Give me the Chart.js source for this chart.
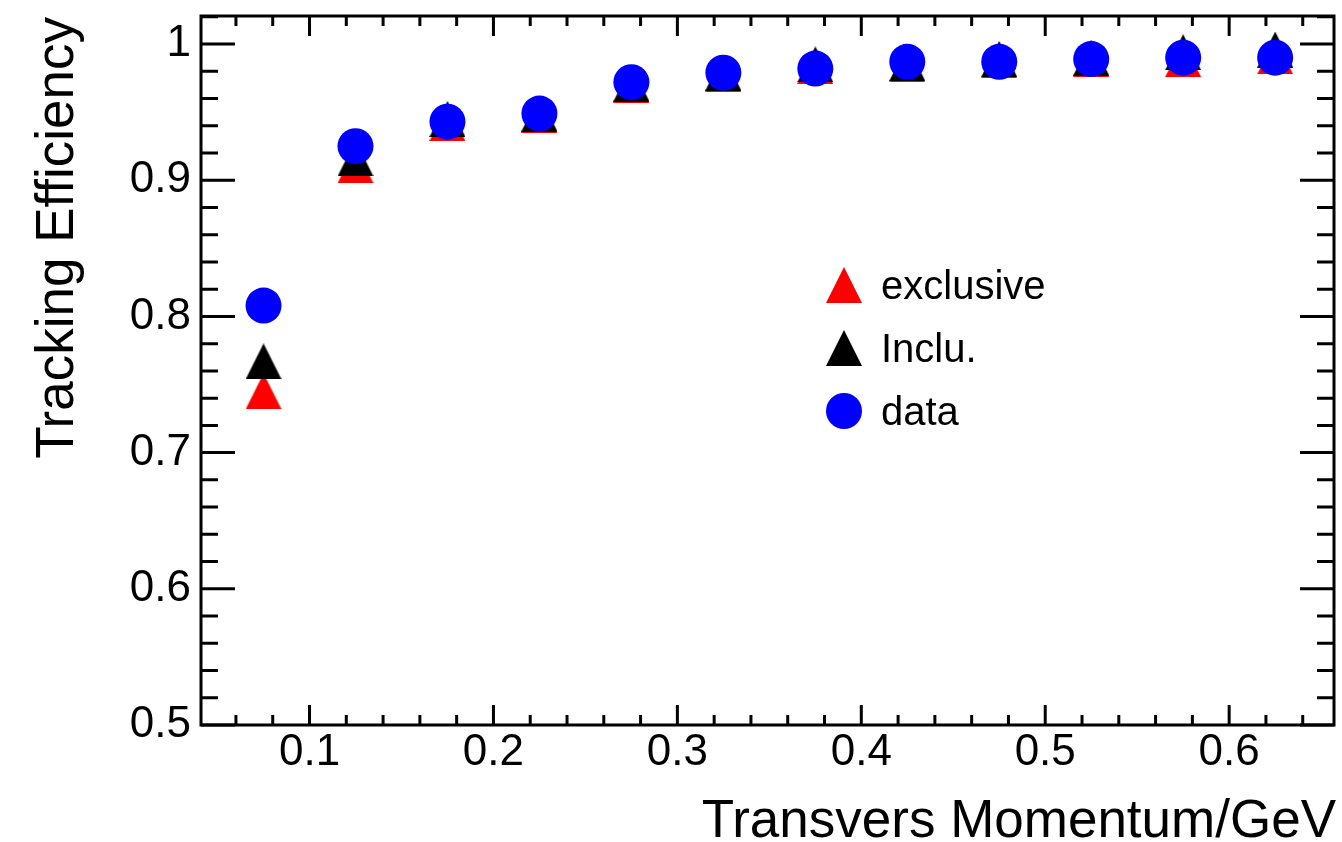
<!DOCTYPE html>
<html>
<head>
<meta charset="utf-8">
<title>Tracking Efficiency</title>
<script src="https://cdn.jsdelivr.net/npm/chart.js@4/dist/chart.umd.min.js"></script>
<style>
  html, body { margin: 0; padding: 0; background: #fff; }
  canvas { display: block; }
</style>
</head>
<body>
<canvas id="eff" width="1342" height="842"></canvas>
<script>
// pT bin centres (GeV)
const ptBins = [0.075, 0.125, 0.175, 0.225, 0.275, 0.325, 0.375, 0.425, 0.475, 0.525, 0.575, 0.625];
const effExclusive = [0.745, 0.911, 0.942, 0.948, 0.970, 0.978, 0.984, 0.985, 0.988, 0.989, 0.989, 0.991];
const effInclu = [0.767, 0.916, 0.945, 0.949, 0.971, 0.979, 0.985, 0.986, 0.989, 0.990, 0.994, 0.996];
const effData = [0.808, 0.925, 0.943, 0.949, 0.972, 0.979, 0.982, 0.987, 0.987, 0.989, 0.990, 0.990];
const seriesNames = ['exclusive', 'Inclu.', 'data'];

const FONT = '"Liberation Sans", Arial, Helvetica, sans-serif';

// root-style full triangle marker (as wide as it is tall)
const triangleMarker = (color, size = 36) => {
  const c = document.createElement('canvas');
  c.width = size;
  c.height = size;
  const g = c.getContext('2d');
  g.fillStyle = color;
  g.beginPath();
  g.moveTo(size / 2, 0);
  g.lineTo(size, size);
  g.lineTo(0, size);
  g.closePath();
  g.fill();
  return c;
};
const redTri = triangleMarker('#ff0000');
const blackTri = triangleMarker('#000000');

const toPoints = (ys) => ptBins.map((x, i) => ({ x, y: ys[i] }));

// pin the frame: no extra room for edge labels
const noPad = (s) => {
  s.paddingTop = 0;
  s.paddingBottom = 0;
  s.paddingLeft = 0;
  s.paddingRight = 0;
};

// frame + inward ticks on all four sides
const frameTicks = {
  id: 'frameTicks',
  afterDatasetsDraw(chart) {
    const { ctx, chartArea: a, scales } = chart;
    const xs = scales.x;
    const ys = scales.y;
    ctx.save();
    ctx.strokeStyle = '#000';
    ctx.lineWidth = 3;
    ctx.beginPath();
    for (let k = 2; k <= 33; k++) {
      const v = k / 50;
      if (v < xs.min || v > xs.max) continue;
      const px = xs.getPixelForValue(v);
      const len = k % 5 === 0 ? 20 : 10;
      ctx.moveTo(px, a.bottom);
      ctx.lineTo(px, a.bottom - len);
      ctx.moveTo(px, a.top);
      ctx.lineTo(px, a.top + len);
    }
    for (let k = 25; k <= 51; k++) {
      const v = k / 50;
      if (v < ys.min || v > ys.max) continue;
      const py = ys.getPixelForValue(v);
      const len = k % 5 === 0 ? 34 : 17;
      ctx.moveTo(a.left, py);
      ctx.lineTo(a.left + len, py);
      ctx.moveTo(a.right, py);
      ctx.lineTo(a.right - len, py);
    }
    ctx.stroke();
    ctx.strokeRect(a.left, a.top, a.right - a.left, a.bottom - a.top);
    ctx.restore();
  },
};

// axis titles, right/top aligned like ROOT
const axisTitles = {
  id: 'axisTitles',
  afterDraw(chart) {
    const { ctx, chartArea: a } = chart;
    ctx.save();
    ctx.fillStyle = '#000';
    ctx.font = `53px ${FONT}`;
    ctx.textAlign = 'right';
    ctx.textBaseline = 'alphabetic';
    ctx.fillText('Transvers Momentum/GeV', a.right + 2, 837);
    ctx.translate(73, a.top + 1);
    ctx.rotate(-Math.PI / 2);
    ctx.fillText('Tracking Efficiency', 0, 0);
    ctx.restore();
  },
};

// legend box inside the frame
const innerLegend = {
  id: 'innerLegend',
  afterDraw(chart) {
    const { ctx } = chart;
    const mx = 844;
    const tx = 881;
    const rows = [285, 348, 411];
    ctx.save();
    ctx.font = `40px ${FONT}`;
    ctx.textBaseline = 'alphabetic';
    ctx.textAlign = 'left';
    chart.data.datasets.forEach((ds, i) => {
      const y = rows[i];
      const ps = ds.pointStyle;
      if (ps === 'circle') {
        ctx.fillStyle = ds.backgroundColor;
        ctx.beginPath();
        ctx.arc(mx, y, ds.pointRadius, 0, Math.PI * 2);
        ctx.fill();
      } else {
        ctx.drawImage(ps, mx - ps.width / 2, y - ps.height / 2);
      }
      ctx.fillStyle = '#000';
      ctx.fillText(ds.label, tx, y + 14);
    });
    ctx.restore();
  },
};

new Chart(document.getElementById('eff'), {
  type: 'scatter',
  data: {
    datasets: [
      {
        label: seriesNames[0],
        data: toPoints(effExclusive),
        pointStyle: redTri,
        backgroundColor: '#ff0000',
        borderColor: '#ff0000',
        pointRadius: 18,
        order: 2,
      },
      {
        label: seriesNames[1],
        data: toPoints(effInclu),
        pointStyle: blackTri,
        backgroundColor: '#000000',
        borderColor: '#000000',
        pointRadius: 18,
        order: 1,
      },
      {
        label: seriesNames[2],
        data: toPoints(effData),
        pointStyle: 'circle',
        backgroundColor: '#0000ff',
        borderColor: '#0000ff',
        borderWidth: 0,
        pointRadius: 18,
        order: 0,
      },
    ],
  },
  options: {
    responsive: false,
    animation: false,
    devicePixelRatio: 1,
    layout: {
      autoPadding: false,
      padding: { top: 16, right: 8, left: 0, bottom: 0 },
    },
    plugins: {
      legend: { display: false },
      tooltip: { enabled: false },
    },
    scales: {
      x: {
        type: 'linear',
        min: 0.041,
        max: 0.657,
        grid: { display: false, drawTicks: false },
        border: { display: false },
        ticks: {
          stepSize: 0.1,
          includeBounds: false,
          padding: 6,
          color: '#000',
          font: { family: FONT, size: 44, lineHeight: 1 },
          maxRotation: 0,
          callback: (v) => String(+v.toFixed(2)),
        },
        afterFit: (s) => { s.height = 117; noPad(s); },
      },
      y: {
        type: 'linear',
        min: 0.5,
        max: 1.0206,
        grid: { display: false, drawTicks: false },
        border: { display: false },
        ticks: {
          stepSize: 0.1,
          includeBounds: false,
          padding: 10,
          color: '#000',
          font: { family: FONT, size: 44, lineHeight: 1 },
          callback: (v) => String(+v.toFixed(2)),
        },
        afterFit: (s) => { s.width = 201; noPad(s); },
      },
    },
  },
  plugins: [frameTicks, axisTitles, innerLegend],
});
</script>
</body>
</html>
